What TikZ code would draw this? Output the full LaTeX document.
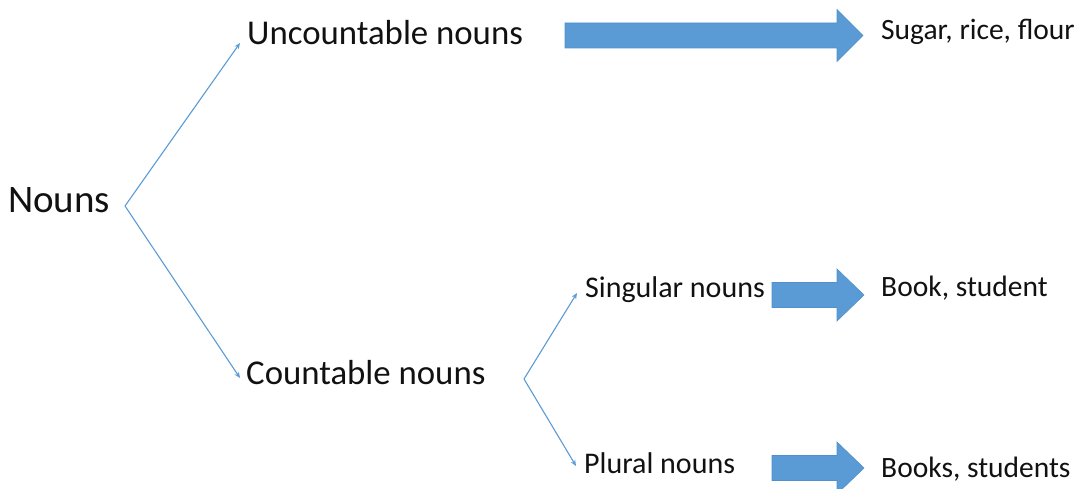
\documentclass[tikz,border=0pt]{standalone}
\usepackage{fontspec}
\setmainfont{Carlito}
\usetikzlibrary{arrows.meta}
\definecolor{officeblue}{HTML}{5B9BD5}
\definecolor{officeedge}{HTML}{5290CC}
\definecolor{inktext}{HTML}{111111}
\tikzset{
  label/.style={inner sep=0pt, anchor=base west, text=inktext},
  huge label/.style={label, font=\fontsize{39}{46}\selectfont},
  big label/.style={label, font=\fontsize{34.8}{41}\selectfont},
  mid label/.style={label, font=\fontsize{30}{36}\selectfont},
  small label/.style={label, font=\fontsize{29.5}{35}\selectfont},
  branch/.style={draw=officeblue, line width=1.1pt, -{Stealth[length=6pt,width=5pt]}},
  fat/.style={fill=officeblue, draw=officeedge, line width=0.6pt, line join=miter},
}
% block arrow: shaft start x, head start x, tip x, centre y
\newcommand{\fatarrow}[4]{%
  \path[fat] (#1,#4-12.5) -- (#2,#4-12.5) -- (#2,#4-26) -- (#3,#4)
    -- (#2,#4+26) -- (#2,#4+12.5) -- (#1,#4+12.5) -- cycle;}
\begin{document}
\begin{tikzpicture}[x=1pt,y=-1pt]
  \useasboundingbox (0,0) rectangle (1082,489);

  % category labels
  \node[huge label] (nouns) at (8,213) {Nouns};
  \node[big label] (unc) at (247,45) {Uncountable nouns};
  \node[big label] (cnt) at (246,384) {Countable nouns};
  \node[mid label] (sing) at (585,298) {Singular nouns};
  \node[mid label] (plur) at (584,473) {Plural nouns};

  % examples
  \node[small label] (ex1) at (881,40) {Sugar, rice, flour};
  \node[small label] (ex2) at (881,297) {Book, student};
  \node[small label] (ex3) at (881,477) {Books, students};

  % branching points
  \coordinate (f1) at (125,206);
  \coordinate (f2) at (524,379);

  \draw[branch] (f1) -- ([xshift=-7pt,yshift=2pt]unc.base west);
  \draw[branch] (f1) -- ([xshift=-6pt,yshift=6pt]cnt.base west);
  \draw[branch] (f2) -- ([xshift=-8pt,yshift=5pt]sing.base west);
  \draw[branch] (f2) -- ([xshift=-8pt,yshift=7pt]plur.base west);

  % block arrows to the examples
  \fatarrow{565}{837}{863}{35.5}
  \fatarrow{772}{837}{864}{295}
  \fatarrow{772}{837}{864}{468}
\end{tikzpicture}
\end{document}
